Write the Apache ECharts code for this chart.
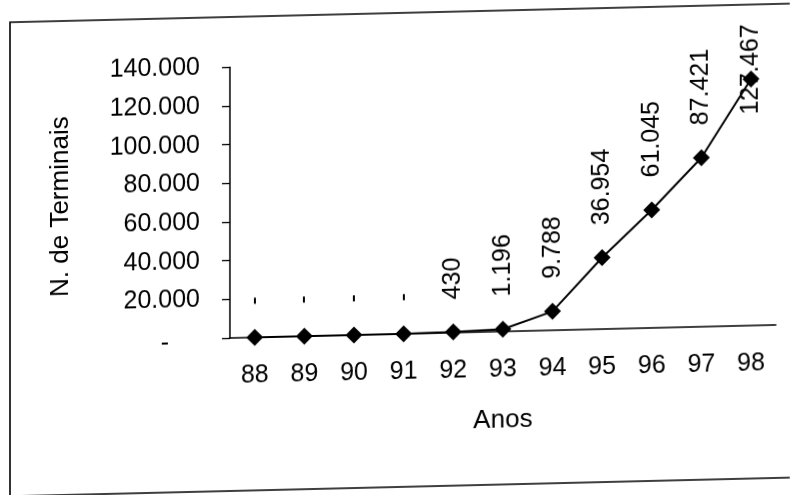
<!DOCTYPE html>
<html>
<head>
<meta charset="utf-8">
<script src="https://cdn.jsdelivr.net/npm/echarts@6/dist/echarts.min.js"></script>
<style>
html,body{margin:0;padding:0;background:#fff;overflow:hidden;}
#wrap{width:790px;height:495px;transform-origin:230px 338px;transform:skewY(-1.37deg);}
#chart{width:790px;height:495px;}
</style>
</head>
<body>
<div id="wrap"><div id="chart"></div></div>
<script>
// ---- data ----
const years = ['88', '89', '90', '91', '92', '93', '94', '95', '96', '97', '98'];
const terminals = [0, 0, 0, 0, 430, 1196, 9788, 36954, 61045, 87421, 127467];
const yTickLabels = ['-', '20.000', '40.000', '60.000', '80.000', '100.000', '120.000', '140.000'];
const xAxisTitle = 'Anos';
const yAxisTitle = 'N. de Terminais';

function fmt(v) {
  if (v === 0) return '-';
  return String(v).replace(/\B(?=(\d{3})+(?!\d))/g, '.');
}

const font = '"Liberation Sans", Arial, Helvetica, sans-serif';
const chart = echarts.init(document.getElementById('chart'), null, { renderer: 'canvas' });

chart.setOption({
  animation: false,
  backgroundColor: '#fff',
  textStyle: { fontFamily: font, color: '#000' },
  grid: { left: 230, right: 14, top: 67.3, bottom: 157, containLabel: false, outerBoundsMode: 'none' },
  graphic: [{
    type: 'rect', silent: true,
    shape: { x: 10, y: 17, width: 900, height: 474 },
    style: { fill: 'none', stroke: '#000', lineWidth: 1.6 }
  }],
  xAxis: {
    type: 'category',
    data: years,
    boundaryGap: true,
    name: xAxisTitle,
    nameLocation: 'middle',
    nameGap: 76,
    nameTextStyle: { fontSize: 26, color: '#000', fontFamily: font },
    axisLine: { lineStyle: { color: '#000', width: 1.5 } },
    axisTick: { length: 7, lineStyle: { color: '#000', width: 1.3 } },
    axisLabel: { fontSize: 25, color: '#000', margin: 26, fontFamily: font }
  },
  yAxis: {
    type: 'value',
    min: 0,
    max: 140000,
    interval: 20000,
    name: yAxisTitle,
    nameLocation: 'middle',
    nameGap: 156,
    nameTextStyle: { fontSize: 26, color: '#000', fontFamily: font },
    axisLine: { show: true, lineStyle: { color: '#000', width: 1.5 } },
    axisTick: { show: true, length: 8, lineStyle: { color: '#000', width: 1.3 } },
    splitLine: { show: false },
    axisLabel: {
      fontSize: 25, color: '#000', margin: 30, fontFamily: font,
      formatter: function (v) {
        const idx = Math.round(v / 20000);
        return idx === 0 ? '{d|' + yTickLabels[0] + '}' : yTickLabels[idx];
      },
      rich: { d: { fontSize: 25, color: '#000', fontFamily: font, padding: [8, 31, 0, 0] } }
    }
  },
  series: [{
    type: 'line',
    data: terminals.map(function (v, i) {
      return i === terminals.length - 1 ? { value: v, label: { position: 'bottom', distance: 27 } } : v;
    }),
    symbol: 'diamond',
    symbolSize: [17, 17],
    itemStyle: { color: '#000' },
    lineStyle: { color: '#000', width: 2 },
    label: {
      show: true, position: 'top', distance: 24, rotate: 90,
      align: 'left', verticalAlign: 'middle',
      fontSize: 25, color: '#000', fontFamily: font,
      formatter: function (p) { return fmt(p.value); }
    }
  }]
});
</script>
</body>
</html>
